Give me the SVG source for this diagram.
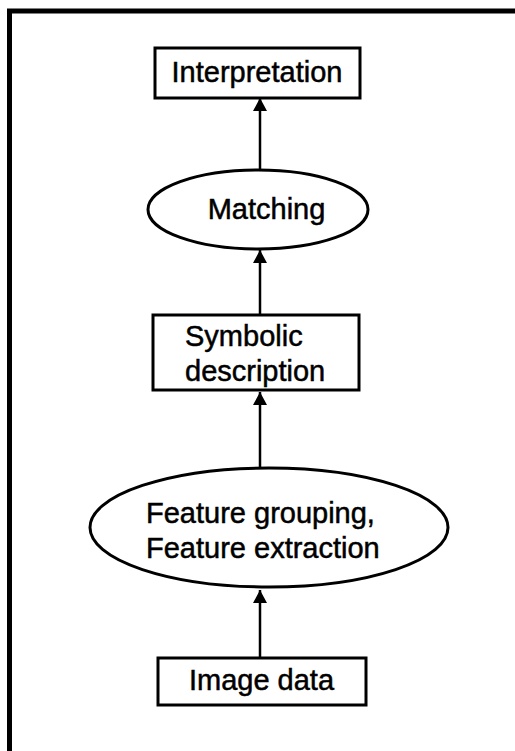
<svg xmlns="http://www.w3.org/2000/svg" width="515" height="751" viewBox="0 0 515 751">
  <style>
    .box { fill: #ffffff; stroke: #000000; stroke-width: 3; }
    .oval { fill: #ffffff; stroke: #000000; stroke-width: 3; }
    .label { font-family: "Liberation Sans", Arial, sans-serif; font-size: 29px; fill: #000000; stroke: #000000; stroke-width: 0.5; }
    .mid { text-anchor: middle; }
    .edge { stroke: #000000; stroke-width: 2.5; fill: none; marker-end: url(#head); }
  </style>
  <defs>
    <marker id="head" markerUnits="userSpaceOnUse" markerWidth="15" markerHeight="15" refX="13" refY="7" orient="auto">
      <path d="M0,0 L13,7 L0,14 z" fill="#000000"/>
    </marker>
  </defs>

  <rect width="515" height="751" fill="#ffffff"/>

  <!-- outer frame: top and left edges only -->
  <path d="M9.5,751 V11 H515" fill="none" stroke="#000000" stroke-width="5"/>

  <g id="connectors">
    <line class="edge" x1="260" y1="658" x2="260" y2="590"/>
    <line class="edge" x1="260" y1="468" x2="260" y2="392"/>
    <line class="edge" x1="260" y1="315" x2="260" y2="250"/>
    <line class="edge" x1="260" y1="170" x2="260" y2="98"/>
  </g>

  <g id="interpretation">
    <rect class="box" x="155" y="48" width="205" height="50"/>
    <text class="label mid" x="257" y="82">Interpretation</text>
  </g>

  <g id="matching">
    <ellipse class="oval" cx="258" cy="209.5" rx="110" ry="39.5"/>
    <text class="label mid" x="266.5" y="219">Matching</text>
  </g>

  <g id="symbolic-description">
    <rect class="box" x="153" y="315" width="206" height="75"/>
    <text class="label" x="185" y="346">Symbolic</text>
    <text class="label" x="185" y="381">description</text>
  </g>

  <g id="feature-grouping">
    <ellipse class="oval" cx="269" cy="527.5" rx="179" ry="59.5"/>
    <text class="label" x="146" y="523">Feature grouping,</text>
    <text class="label" x="146" y="558">Feature extraction</text>
  </g>

  <g id="image-data">
    <rect class="box" x="158" y="658" width="208" height="47"/>
    <text class="label mid" x="261.5" y="690">Image data</text>
  </g>
</svg>
